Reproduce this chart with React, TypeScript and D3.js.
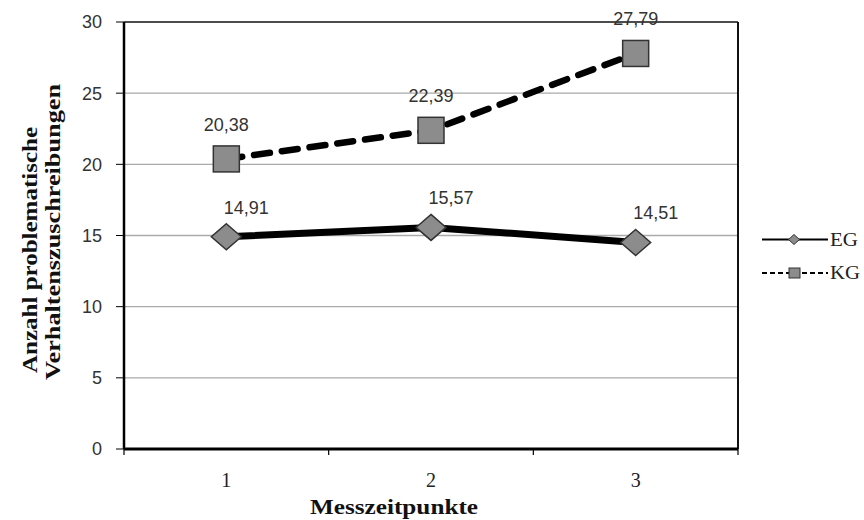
import React from "react";
import * as d3 from "d3";

const categories = ["1", "2", "3"];
const egValues = [14.91, 15.57, 14.51];
const kgValues = [20.38, 22.39, 27.79];
const yTicks = [0, 5, 10, 15, 20, 25, 30];
const seriesNames = ["EG", "KG"];

const W = 864, H = 520;
const left = 124, right = 738, top = 22, bottom = 449;

export default function App() {
  const x = d3.scaleBand<string>().domain(categories).range([left, right]);
  const y = d3.scaleLinear().domain([0, 30]).range([bottom, top]);
  const cx = (c: string) => (x(c) as number) + x.bandwidth() / 2;
  const line = d3.line<number>().x((_, i) => cx(categories[i])).y((d) => y(d));
  const serif = "'Liberation Serif', 'Times New Roman', serif";
  const sans = "'Liberation Sans', Arial, sans-serif";
  const diamond = (px: number, py: number, rx: number, ry: number) =>
    `M${px},${py - ry}L${px + rx},${py}L${px},${py + ry}L${px - rx},${py}Z`;
  const boundaries = [...categories.map((c) => x(c) as number), right];
  const fmt = (v: number) => d3.format(".2f")(v).replace(".", ",");
  return (
    <div style={{ position: "fixed", left: 0, top: 0 }}>
      <svg width={W} height={H} style={{ display: "block", background: "#fff" }}>
        {/* gridlines */}
        {yTicks.filter((t) => t > 0 && t < 30).map((t) => (
          <line key={t} x1={left} x2={right} y1={y(t)} y2={y(t)} stroke="#aaa" strokeWidth={1.3} />
        ))}
        {/* plot frame */}
        <line x1={left} x2={right} y1={y(30)} y2={y(30)} stroke="#111" strokeWidth={1.5} />
        <line x1={right} x2={right} y1={top} y2={bottom} stroke="#111" strokeWidth={2} />
        <line x1={left} x2={left} y1={top} y2={bottom} stroke="#000" strokeWidth={2.5} />
        <line x1={left} x2={right} y1={bottom} y2={bottom} stroke="#000" strokeWidth={3} />
        {/* y ticks */}
        {yTicks.map((t) => (
          <g key={t}>
            <line x1={left - 8} x2={left} y1={y(t)} y2={y(t)} stroke="#000" strokeWidth={1} />
            <text x={102} y={y(t)} dy="0.36em" textAnchor="end" fontFamily={sans} fontSize={18} fill="#333">
              {t}
            </text>
          </g>
        ))}
        {/* x ticks */}
        {boundaries.map((b, i) => (
          <line key={i} x1={b} x2={b} y1={bottom} y2={bottom + 6} stroke="#000" strokeWidth={1.2} />
        ))}
        {categories.map((c) => (
          <text key={c} x={cx(c)} y={487} textAnchor="middle" fontFamily={serif} fontSize={20} fill="#222">
            {c}
          </text>
        ))}
        {/* axis titles */}
        <text x={394} y={514} textAnchor="middle" fontFamily={serif} fontWeight="bold" fontSize={22} fill="#111"
          textLength={168} lengthAdjust="spacingAndGlyphs">
          Messzeitpunkte
        </text>
        <g transform="translate(37,250) rotate(-90)">
          <text x={0} y={0} textAnchor="middle" fontFamily={serif} fontWeight="bold" fontSize={20} fill="#111"
            textLength={246} lengthAdjust="spacingAndGlyphs">
            Anzahl problematische
          </text>
        </g>
        <g transform="translate(60,232) rotate(-90)">
          <text x={0} y={0} textAnchor="middle" fontFamily={serif} fontWeight="bold" fontSize={20} fill="#111"
            textLength={296} lengthAdjust="spacingAndGlyphs">
            Verhaltenszuschreibungen
          </text>
        </g>
        {/* lines */}
        <path d={line(kgValues) ?? ""} fill="none" stroke="#000" strokeWidth={6.5} strokeDasharray="16,12"
          strokeLinecap="round" />
        <path d={line(egValues) ?? ""} fill="none" stroke="#000" strokeWidth={7} />
        {/* markers */}
        {kgValues.map((v, i) => (
          <rect key={i} x={cx(categories[i]) - 13} y={y(v) - 13} width={26} height={26}
            fill="#8c8c8c" stroke="#333" strokeWidth={1.5} />
        ))}
        {egValues.map((v, i) => (
          <path key={i} d={diamond(cx(categories[i]), y(v), 15, 13)} fill="#8c8c8c" stroke="#333" strokeWidth={1.5} />
        ))}
        {/* data labels */}
        {kgValues.map((v, i) => (
          <text key={i} x={cx(categories[i])} y={y(v) - 28}
            textAnchor="middle" fontFamily={sans} fontSize={18} fill="#333">
            {fmt(v)}
          </text>
        ))}
        {egValues.map((v, i) => (
          <text key={i} x={cx(categories[i]) + 20} y={y(v) - 23}
            textAnchor="middle" fontFamily={sans} fontSize={18} fill="#333">
            {fmt(v)}
          </text>
        ))}
        {/* legend */}
        <g>
          <line x1={762} x2={828} y1={239.5} y2={239.5} stroke="#000" strokeWidth={2} />
          <path d={diamond(794, 239.5, 5.5, 5)} fill="#8c8c8c" stroke="#333" strokeWidth={1} />
          <text x={830} y={245.5} fontFamily={serif} fontSize={18} fill="#222" textLength={28}
            lengthAdjust="spacingAndGlyphs">{seriesNames[0]}</text>
          <line x1={762} x2={828} y1={273} y2={273} stroke="#000" strokeWidth={2} strokeDasharray="5,3" />
          <rect x={789} y={268} width={11} height={10} fill="#8c8c8c" stroke="#333" strokeWidth={1} />
          <text x={830} y={279} fontFamily={serif} fontSize={18} fill="#222" textLength={30}
            lengthAdjust="spacingAndGlyphs">{seriesNames[1]}</text>
        </g>
      </svg>
    </div>
  );
}
